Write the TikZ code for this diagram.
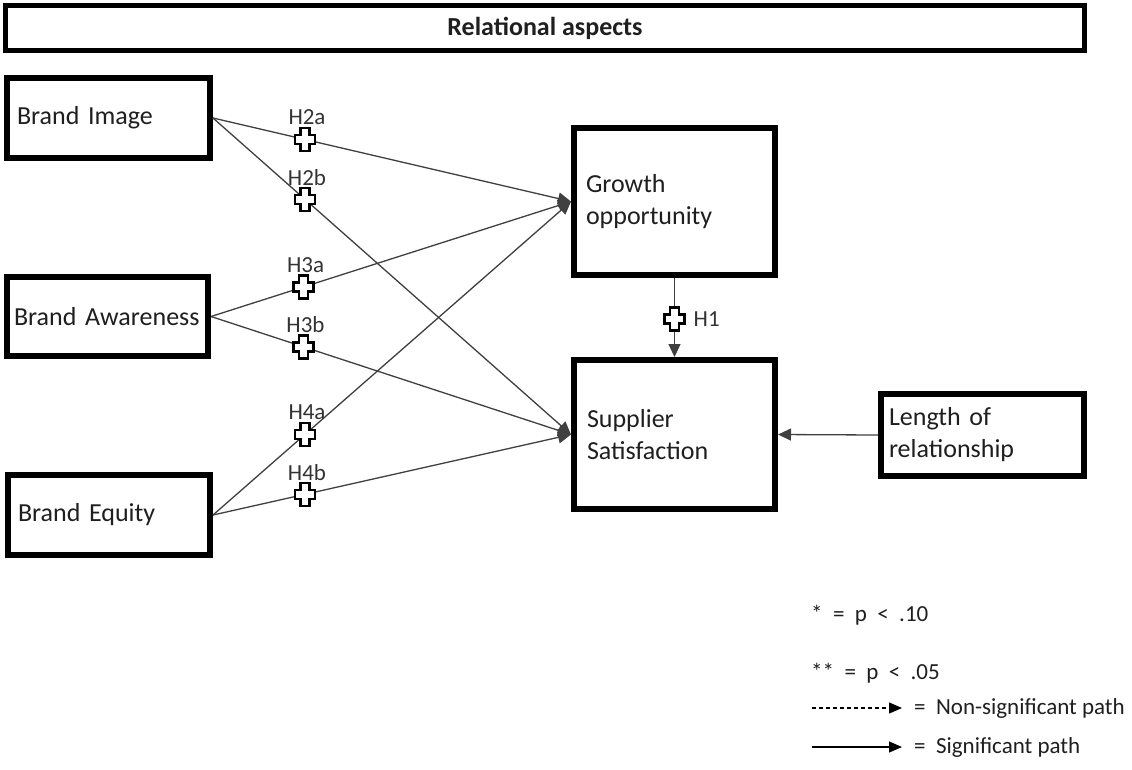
\documentclass[tikz,border=0pt]{standalone}
\usepackage{fontspec}
\setmainfont{Carlito}
\usetikzlibrary{arrows.meta,calc}
\begin{document}
\begin{tikzpicture}[x=1pt,y=-1pt,
  box/.style={draw=black, line width=6pt, fill=white, inner xsep=10pt, inner ysep=0pt, align=left, font=\fontsize{26}{32}\selectfont, text=black!88},
  conn/.style={draw=black!75, line width=1.3pt, -{Triangle[length=13pt,width=12pt]}},
  legarr/.style={draw=black, line width=1.2pt, -{Triangle[length=13pt,width=11pt]}},
  hyp/.style={font=\fontsize{23}{27}\selectfont, text=black!80, inner sep=0pt},
  leg/.style={font=\fontsize{23}{27}\selectfont, text=black!88, anchor=west, inner sep=0pt},
  hcross/.pic={\draw[line width=2.5pt, fill=white, solid, draw=black] (-4.5,-11.5) -- (4.5,-11.5) -- (4.5,-4.5) -- (10,-4.5) -- (10,4.5) -- (4.5,4.5) -- (4.5,11.5) -- (-4.5,11.5) -- (-4.5,4.5) -- (-10,4.5) -- (-10,-4.5) -- (-4.5,-4.5) -- cycle;}
]
\useasboundingbox[fill=white] (0,0) rectangle (1132,769);

% title
\node[box, line width=5pt, minimum width=1079, minimum height=45, align=center, font=\bfseries\fontsize{26}{30}\selectfont] (title) at (545,28) {Relational aspects};

% boxes
\node[box, minimum width=203, minimum height=80, text width=183] (bi) at (108.5,118) {Brand Image};
\node[box, inner xsep=7pt, minimum width=201, minimum height=79, text width=187] (ba) at (107.5,316.5) {Brand Awareness};
\node[box, minimum width=202, minimum height=80, text width=182] (be) at (109,515) {Brand Equity};
\node[box, inner xsep=12pt, minimum width=201, minimum height=147, text width=177] (go) at (674.5,201.5) {Growth\\opportunity};
\node[box, inner xsep=13pt, minimum width=201, minimum height=149, text width=175] (ss) at (674.5,434.5) {Supplier\\Satisfaction};
\node[box, inner xsep=8pt, minimum width=203, minimum height=82, text width=187] (lr) at (982.5,435) {Length of\\relationship};

% connectors
\draw[conn] (bi.east) -- coordinate[pos=.257] (c2a) (go.west);
\draw[conn] (bi.east) -- coordinate[pos=.257] (c2b) (ss.west);
\draw[conn] (ba.east) -- coordinate[pos=.257] (c3a) (go.west);
\draw[conn] (ba.east) -- coordinate[pos=.257] (c3b) (ss.west);
\draw[conn] (be.east) -- coordinate[pos=.257] (c4a) (go.west);
\draw[conn] (be.east) -- coordinate[pos=.257] (c4b) (ss.west);
\draw[conn] (go.south) -- coordinate[pos=.52] (c1) (ss.north);
\draw[conn] (lr.west) -- (ss.east);

% hypothesis markers
\foreach \c/\l in {c2a/H2a, c2b/H2b, c3a/H3a, c3b/H3b, c4a/H4a, c4b/H4b}{
  \pic at (\c) {hcross};
  \node[hyp] (l\c) at ($(\c)+(2,-22)$) {\l};
}
\pic at (c1) {hcross};
\node[hyp, anchor=west] (lc1) at ($(c1)+(19,0)$) {H1};

% legend
\node[leg] (p10) at (811,615) {*\ \ =\ \ p\ \ <\ \ .10};
\node[leg] (p05) at (811,673) {**\ \ =\ \ p\ \ <\ \ .05};
\coordinate (d0) at (812,708);
\coordinate (d1) at (902,708);
\draw[legarr, dash pattern=on 4pt off 3pt] (d0) -- (d1);
\node[leg] (nsig) at (914,708) {=\ \ Non-significant path};
\coordinate (s0) at (812,747);
\coordinate (s1) at (902,747);
\draw[legarr] (s0) -- (s1);
\node[leg] (sig) at (914,747) {=\ \ Significant path};
\end{tikzpicture}
\end{document}
